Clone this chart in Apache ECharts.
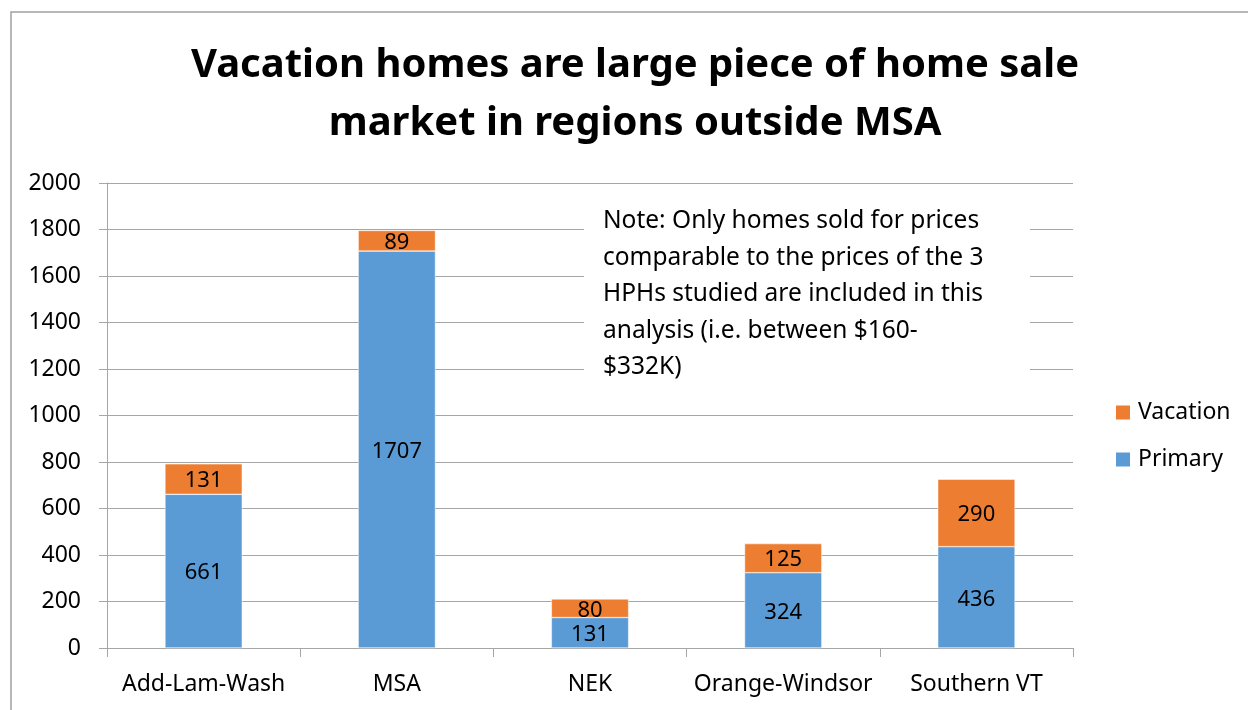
<!DOCTYPE html>
<html>
<head>
<meta charset="utf-8">
<script src="https://cdn.jsdelivr.net/npm/echarts@6/dist/echarts.min.js"></script>
<style>html,body{margin:0;padding:0;background:#fff;}#c{width:1248px;height:710px;}</style>
</head>
<body>
<div id="c"></div>
<script>
const categories = ['Add-Lam-Wash', 'MSA', 'NEK', 'Orange-Windsor', 'Southern VT'];
const primary = [661, 1707, 131, 324, 436];
const vacation = [131, 89, 80, 125, 290];
const yTicks = { min: 0, max: 2000, interval: 200 };
const titleText = 'Vacation homes are large piece of home sale\nmarket in regions outside MSA';
const noteText = 'Note: Only homes sold for prices\ncomparable to the prices of the 3\nHPHs studied are included in this\nanalysis (i.e. between $160-\n$332K)';

const FONT = '"Noto Sans", "Open Sans", sans-serif';
const chart = echarts.init(document.getElementById('c'));
chart.setOption({
  animation: false,
  backgroundColor: '#fff',
  textStyle: { fontFamily: FONT },
  grid: { left: 107, right: 175, top: 183, bottom: 62, containLabel: false },
  legend: {
    orient: 'vertical',
    left: 1109, top: 396,
    itemWidth: 16, itemHeight: 16, itemGap: 24,
    data: ['Vacation', 'Primary'],
    textStyle: { fontSize: 23, color: '#000', fontFamily: FONT, padding: [0, 0, 0, 2] },
    icon: 'rect'
  },
  xAxis: {
    type: 'category',
    data: categories,
    axisLine: { lineStyle: { color: '#a6a6a6', width: 1 } },
    axisTick: { show: true, length: 9, interval: 0, alignWithLabel: false, lineStyle: { color: '#a6a6a6' } },
    axisLabel: { fontSize: 23, color: '#000', margin: 25, interval: 0, fontFamily: FONT }
  },
  yAxis: {
    type: 'value',
    min: yTicks.min, max: yTicks.max, interval: yTicks.interval,
    axisLine: { show: true, lineStyle: { color: '#a6a6a6', width: 1 } },
    axisTick: { show: true, length: 8, lineStyle: { color: '#a6a6a6' } },
    splitLine: { lineStyle: { color: '#a6a6a6', width: 1 } },
    axisLabel: { fontSize: 23, color: '#000', margin: 26, fontFamily: FONT, formatter: function (v) { return String(v); } }
  },
  series: [
    {
      name: 'Primary', type: 'bar', stack: 'total', data: primary,
      barWidth: '40%',
      itemStyle: { color: '#5B9BD5', borderColor: '#fff', borderWidth: 0.5 },
      label: { show: true, position: 'inside', color: '#000', fontSize: 22, fontFamily: FONT, offset: [0, 2] }
    },
    {
      name: 'Vacation', type: 'bar', stack: 'total', data: vacation,
      barWidth: '40%',
      itemStyle: { color: '#ED7D31', borderColor: '#fff', borderWidth: 0.5 },
      label: { show: true, position: 'inside', color: '#000', fontSize: 22, fontFamily: FONT, offset: [0, 2] }
    }
  ],
  graphic: [
    { type: 'rect', shape: { x: 11, y: 12, width: 1300, height: 760 }, style: { fill: 'none', stroke: '#a0a0a0', lineWidth: 1.5 }, z: 100, silent: true },
    { type: 'rect', shape: { x: 584, y: 196, width: 446, height: 192 }, style: { fill: '#fff' }, z: 50 },
    { type: 'text', x: 603, y: 203, z: 51, style: { text: noteText, font: '24.5px ' + FONT, fill: '#000', lineHeight: 36.5, textVerticalAlign: 'top' } },
    { type: 'text', x: 635, y: 37, z: 51, style: { text: titleText, font: 'bold 40px ' + FONT, fill: '#000', lineHeight: 58, textAlign: 'center', textVerticalAlign: 'top' } }
  ]
});
</script>
</body>
</html>
